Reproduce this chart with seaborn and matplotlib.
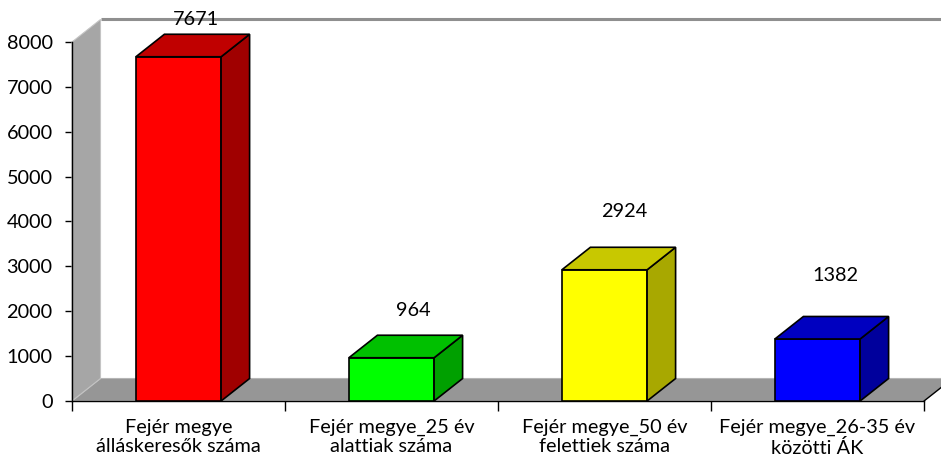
import matplotlib
matplotlib.use("Agg")
import matplotlib.pyplot as plt
from matplotlib.patches import Polygon
import seaborn as sns
import pandas as pd

# ---- data ----
categories = [
    "Fejér megye\nálláskeresők száma",
    "Fejér megye_25 év\nalattiak száma",
    "Fejér megye_50 év\nfelettiek száma",
    "Fejér megye_26-35 év\nközötti ÁK",
]
values = [7671, 964, 2924, 1382]
y_ticks = [0, 1000, 2000, 3000, 4000, 5000, 6000, 7000, 8000]

# ---- style ----
front_colors = ["#FF0000", "#00FF00", "#FFFF00", "#0000FF"]
top_colors = ["#C00000", "#00C000", "#C8C800", "#0000C0"]
side_colors = ["#A00000", "#00A000", "#A8A800", "#00009C"]
label_offsets_px = [(17, 37), (22, 47), (20, 58), (18, 63)]
DEPTH_PX = (28.5, 22.5)
FS = 14.3

sns.set_style("white")
plt.rcParams["font.family"] = ["Lato", "DejaVu Sans"]
plt.rcParams["font.size"] = FS

W, H = 941, 462
fig = plt.figure(figsize=(W / 100, H / 100), dpi=100)
ax = fig.add_axes([72 / W, 1 - 401 / H, 852 / W, 359 / H])
ax.patch.set_alpha(0)

df = pd.DataFrame({"cat": categories, "val": values})
sns.barplot(data=df, x="cat", y="val", hue="cat", palette=front_colors,
            width=0.4, edgecolor="black", linewidth=1.2, legend=False,
            saturation=1, ax=ax, zorder=3)

ax.set_xlim(-0.5, len(categories) - 0.5)
ax.set_ylim(0, 8000)

bar_patches = sorted(list(ax.patches), key=lambda p: p.get_x())

# depth offset in data units
x0, x1 = ax.get_xlim()
y0, y1 = ax.get_ylim()
bbox = ax.get_window_extent()
dx = DEPTH_PX[0] * (x1 - x0) / bbox.width
dy = DEPTH_PX[1] * (y1 - y0) / bbox.height

# floor and left wall
floor = Polygon([(x0, 0), (x0 + dx, dy), (x1 + dx, dy), (x1, 0)],
                closed=True, facecolor="#969696", edgecolor="#b5b5b5",
                linewidth=0.8, zorder=0.5, clip_on=False)
ax.add_patch(floor)
wall = Polygon([(x0, 0), (x0 + dx, dy), (x0 + dx, y1 + dy), (x0, y1)],
               closed=True, facecolor="#a6a6a6", edgecolor="#c4c4c4",
               linewidth=0.8, zorder=0.6, clip_on=False)
ax.add_patch(wall)
# back wall top edge
ax.plot([x0 + dx, x1 + 2 * dx], [y1 + dy, y1 + dy], color="#8f8f8f",
        linewidth=2.2, zorder=0.7, clip_on=False, solid_capstyle="butt")
# right front edge of the floor
ax.plot([x1, x1 + dx], [0, dy], color="black", linewidth=1.0,
        zorder=2.6, clip_on=False)

# 3D faces of bars
for i, p in enumerate(bar_patches):
    bx, bw, bh = p.get_x(), p.get_width(), p.get_height()
    top = Polygon([(bx, bh), (bx + dx, bh + dy), (bx + bw + dx, bh + dy), (bx + bw, bh)],
                  closed=True, facecolor=top_colors[i], edgecolor="black",
                  linewidth=1.2, zorder=3, clip_on=False)
    side = Polygon([(bx + bw, 0), (bx + bw + dx, dy), (bx + bw + dx, bh + dy), (bx + bw, bh)],
                   closed=True, facecolor=side_colors[i], edgecolor="black",
                   linewidth=1.2, zorder=3, clip_on=False)
    ax.add_patch(side)
    ax.add_patch(top)
    ax.annotate(f"{values[i]}", xy=(bx + bw / 2, bh),
                xytext=label_offsets_px[i], textcoords="offset pixels",
                ha="center", va="center", fontsize=FS, color="black",
                annotation_clip=False, zorder=4)

# axes styling
for s in ["top", "right"]:
    ax.spines[s].set_visible(False)
for s in ["left", "bottom"]:
    ax.spines[s].set_color("black")
    ax.spines[s].set_linewidth(1.0)
    ax.spines[s].set_zorder(2.5)

ax.set_yticks(y_ticks)
ax.set_yticklabels([str(t) for t in y_ticks])
ax.tick_params(axis="y", which="major", left=True, length=5, width=1.0,
               color="black", pad=9, labelsize=FS, labelcolor="black")

ax.set_xticks(range(len(categories)))
ax.set_xticklabels(categories, linespacing=1.15)
ax.set_xticks([i - 0.5 for i in range(len(categories) + 1)], minor=True)
ax.tick_params(axis="x", which="major", bottom=False, length=0, pad=13,
               labelsize=FS, labelcolor="black")
ax.tick_params(axis="x", which="minor", bottom=True, length=7, width=1.0,
               color="black")
ax.set_xlabel("")
ax.set_ylabel("")
ax.grid(False)

fig.savefig("out.png", dpi=100)
